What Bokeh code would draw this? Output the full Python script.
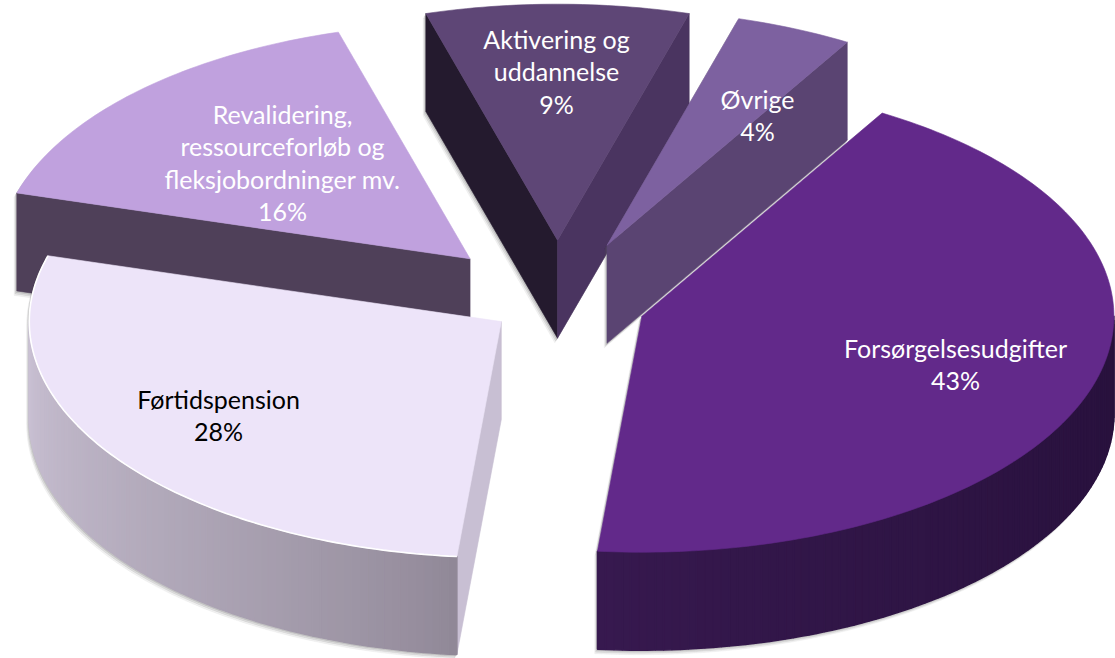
import math
from bokeh.plotting import figure, ColumnDataSource
from bokeh.core.properties import value
from bokeh.embed import file_html
from bokeh.resources import INLINE

# --- data ---
categories = ["Aktivering og uddannelse", "Øvrige", "Forsørgelsesudgifter", "Førtidspension",
              "Revalidering, ressourceforløb og fleksjobordninger mv."]
shares = [9, 4, 43, 28, 16]
label_lines = [["Aktivering og", "uddannelse"], ["Øvrige"], ["Forsørgelsesudgifter"], ["Førtidspension"],
               ["Revalidering,", "ressourceforløb og", "fleksjobordninger mv."]]

# --- style / layout ---
explode = [0.264, 0.264, 0.188, 0.144, 0.262]
top_col = ["#5e4676", "#7d61a0", "#62298a", "#ede4f9", "#c0a1de"]
start_wall = ["#241a2e", None, None, "#c8bfd3", "#4f4059"]
end_wall = ["#4a3460", "#5a4472", None, None, None]
rim_cols = [None, None, ("#26103a", "#37194f"), ("#8f8796", "#d2c9dc"), None]
rim_pow = [1, 1, 2.2, 0.75, 1]
label_col = ["white", "white", "white", "black", "white"]
label_pos = [(556, 38), (757, 98), (955, 347), (218, 398), (282, 113)]
draw_order = [0, 1, 4, 3, 2]
CX, CY, RX, RY, DEPTH = 557.0, 302.0, 472.0, 236.0, 98.0
FIRST_ANGLE = -shares[0] * 3.6 / 2
LINE_STEP = 32.5
FONT_PX = "25px"

W, H = 1115, 658
p = figure(width=W, height=H, x_range=(0, W), y_range=(H, 0), x_axis_type=None, y_axis_type=None,
           output_backend="svg", toolbar_location=None, min_border=0, outline_line_color=None,
           background_fill_color="white", border_fill_color="white")
p.grid.visible = False


def mix(a, b, t):
    ca = [int(a[i:i + 2], 16) for i in (1, 3, 5)]
    cb = [int(b[i:i + 2], 16) for i in (1, 3, 5)]
    return "#%02x%02x%02x" % tuple(round(x + (y - x) * t) for x, y in zip(ca, cb))


def hull(points):
    pts = sorted(set(points))
    def half(seq):
        out = []
        for q in seq:
            while len(out) > 1 and (out[-1][0] - out[-2][0]) * (q[1] - out[-2][1]) - (out[-1][1] - out[-2][1]) * (q[0] - out[-2][0]) <= 0:
                out.pop()
            out.append(q)
        return out[:-1]
    return half(pts) + half(pts[::-1])


patches = dict(xs=[], ys=[], fill=[], alpha=[], lw=[])


def add(points, colour, alpha=1.0, lw=0.6):
    patches["xs"].append([q[0] for q in points])
    patches["ys"].append([q[1] for q in points])
    patches["fill"].append(colour)
    patches["alpha"].append(alpha)
    patches["lw"].append(lw)


total = sum(shares)
angles, a = [], FIRST_ANGLE
for s in shares:
    angles.append((a, a + s / total * 360))
    a += s / total * 360

for i in draw_order:
    a0, a1 = angles[i]
    mid = math.radians((a0 + a1) / 2)
    ax = CX + explode[i] * RX * math.sin(mid)
    ay = CY - explode[i] * RY * math.cos(mid)

    def pt(deg, drop=0.0):
        r = math.radians(deg)
        return (ax + RX * math.sin(r), ay - RY * math.cos(r) + drop)

    steps = max(4, int(a1 - a0))
    arc = [a0 + (a1 - a0) * k / steps for k in range(steps + 1)]
    top = [(ax, ay)] + [pt(d) for d in arc]

    # soft drop shadow of the solid
    solid = hull(top + [(x, y + DEPTH) for x, y in top])
    for off, al in ((1.5, 0.16), (3.0, 0.13), (4.5, 0.08)):
        add([(x - off * 0.6, y + off) for x, y in solid], "#555555", al)

    # cut faces
    if start_wall[i]:
        q = pt(a0)
        add([(ax, ay), q, (q[0], q[1] + DEPTH), (ax, ay + DEPTH)], start_wall[i])
    if end_wall[i]:
        q = pt(a1)
        add([(ax, ay), q, (q[0], q[1] + DEPTH), (ax, ay + DEPTH)], end_wall[i])

    # outer rim with stepped shading
    if rim_cols[i]:
        for k in range(steps):
            d0, d1 = arc[k], arc[k + 1]
            if math.cos(math.radians((d0 + d1) / 2)) < 0:
                t = ((k + 0.5) / steps) ** rim_pow[i]
                add([pt(d0), pt(d1), pt(d1, DEPTH), pt(d0, DEPTH)], mix(*rim_cols[i], t), lw=1.5)

    add(top, top_col[i])

src = ColumnDataSource(patches)
p.patches("xs", "ys", source=src, fill_color="fill", fill_alpha="alpha", line_color="fill", line_alpha="alpha", line_width="lw")

# light edge along the near arc of the pale slice
i = 3
a0, a1 = angles[i]
mid = math.radians((a0 + a1) / 2)
ax = CX + explode[i] * RX * math.sin(mid)
ay = CY - explode[i] * RY * math.cos(mid)
ds = [a0 + (a1 - a0) * k / 100 for k in range(101)]
p.line([ax + RX * math.sin(math.radians(d)) for d in ds], [ay - RY * math.cos(math.radians(d)) for d in ds],
       line_color="white", line_width=1.6)

# labels
xs, ys, texts, cols = [], [], [], []
for i, lines in enumerate(label_lines):
    rows = lines + [f"{shares[i]}%"]
    for k, row in enumerate(rows):
        xs.append(label_pos[i][0])
        ys.append(label_pos[i][1] + k * LINE_STEP)
        texts.append(row)
        cols.append(label_col[i])
p.text(xs, ys, text=texts, text_color=cols, text_align="center", text_baseline="middle",
       text_font=value("Lato"), text_font_size=value(FONT_PX))

open("out.html", "w").write(file_html(p, INLINE))
